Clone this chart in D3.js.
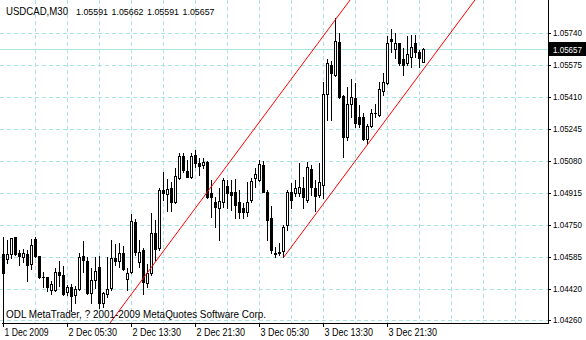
<!DOCTYPE html>
<html>
<head>
<meta charset="utf-8">
<script src="https://d3js.org/d3.v7.min.js"></script>
<style>
  body { margin: 0; background: #fff; }
  svg { display: block; }
  text { font-family: "Liberation Sans", Arial, sans-serif; font-size: 11px; }
</style>
</head>
<body>
<svg width="586" height="340"></svg>

<script type="text/javascript">
    var symbol = "USDCAD,M30";
    var copyright = "ODL MetaTrader, ? 2001-2009 MetaQuotes Software Corp.";

    // M30 bars, 1 Dec 2009 21:30 onwards
    var opens = [1.04600, 1.04575, 1.04600, 1.04688, 1.04606, 1.04585, 1.04600, 1.04549, 1.04678, 1.04590,
                 1.04482, 1.04482, 1.04415, 1.04415, 1.04508, 1.04492, 1.04404, 1.04430, 1.04389, 1.04420,
                 1.04590, 1.04564, 1.04399, 1.04466, 1.04533, 1.04348, 1.04394, 1.04425, 1.04580, 1.04564,
                 1.04606, 1.04471, 1.04508, 1.04765, 1.04559, 1.04621, 1.04451, 1.04502, 1.04709, 1.04631,
                 1.04930, 1.04910, 1.04941, 1.04868, 1.04992, 1.05106, 1.05028, 1.04997, 1.05111, 1.05070,
                 1.05059, 1.05075, 1.04915, 1.04868, 1.04838, 1.04868, 1.04951, 1.04920, 1.04920, 1.04868,
                 1.04838, 1.04817, 1.04879, 1.04992, 1.04982, 1.05059, 1.04920, 1.04786, 1.04606, 1.04611,
                 1.04616, 1.04750, 1.04920, 1.04915, 1.04915, 1.04941, 1.04879, 1.05039, 1.04941, 1.04905,
                 1.04956, 1.05425, 1.05575, 1.05523, 1.05693, 1.05415, 1.05204, 1.05374, 1.05405, 1.05307,
                 1.05307, 1.05193, 1.05260, 1.05327, 1.05317, 1.05441, 1.05482, 1.05709, 1.05657, 1.05688,
                 1.05606, 1.05585, 1.05616, 1.05688, 1.05642, 1.05591];
    var highs = [1.04688, 1.04673, 1.04683, 1.04688, 1.04621, 1.04626, 1.04621, 1.04678, 1.04688, 1.04590,
                 1.04508, 1.04482, 1.04461, 1.04528, 1.04564, 1.04538, 1.04441, 1.04446, 1.04435, 1.04606,
                 1.04667, 1.04585, 1.04528, 1.04585, 1.04590, 1.04404, 1.04585, 1.04673, 1.04652, 1.04657,
                 1.04642, 1.04528, 1.04807, 1.04781, 1.04673, 1.04631, 1.04549, 1.04812, 1.04776, 1.04941,
                 1.05023, 1.04987, 1.04972, 1.05044, 1.05121, 1.05121, 1.05085, 1.05121, 1.05137, 1.05095,
                 1.05095, 1.05080, 1.04982, 1.04894, 1.04941, 1.04992, 1.04982, 1.04982, 1.04987, 1.04930,
                 1.04863, 1.04972, 1.04992, 1.05044, 1.05085, 1.05080, 1.04930, 1.04848, 1.04636, 1.04657,
                 1.04750, 1.04930, 1.04966, 1.04982, 1.05070, 1.04997, 1.05075, 1.05059, 1.04982, 1.05070,
                 1.05487, 1.05606, 1.05596, 1.05817, 1.05740, 1.05420, 1.05461, 1.05503, 1.05482, 1.05369,
                 1.05327, 1.05271, 1.05348, 1.05374, 1.05487, 1.05534, 1.05724, 1.05761, 1.05740, 1.05688,
                 1.05663, 1.05724, 1.05730, 1.05730, 1.05652, 1.05662];
    var lows = [1.04230, 1.04554, 1.04580, 1.04595, 1.04544, 1.04559, 1.04461, 1.04523, 1.04585, 1.04477,
                1.04430, 1.04410, 1.04394, 1.04410, 1.04435, 1.04389, 1.04389, 1.04306, 1.04348, 1.04415,
                1.04508, 1.04394, 1.04348, 1.04425, 1.04322, 1.04327, 1.04379, 1.04415, 1.04544, 1.04533,
                1.04518, 1.04415, 1.04502, 1.04595, 1.04533, 1.04394, 1.04430, 1.04492, 1.04569, 1.04621,
                1.04879, 1.04822, 1.04822, 1.04863, 1.04987, 1.05023, 1.04995, 1.04992, 1.05049, 1.05008,
                1.05044, 1.04889, 1.04791, 1.04740, 1.04673, 1.04843, 1.04838, 1.04827, 1.04786, 1.04786,
                1.04786, 1.04796, 1.04868, 1.04946, 1.04977, 1.04918, 1.04673, 1.04606, 1.04585, 1.04595,
                1.04585, 1.04724, 1.04838, 1.04899, 1.04899, 1.04838, 1.04868, 1.04905, 1.04822, 1.04894,
                1.04889, 1.05291, 1.05291, 1.05518, 1.05405, 1.05101, 1.05188, 1.05307, 1.05255, 1.05255,
                1.05188, 1.05173, 1.05255, 1.05307, 1.05312, 1.05420, 1.05477, 1.05642, 1.05611, 1.05575,
                1.05523, 1.05575, 1.05565, 1.05616, 1.05565, 1.05591];
    var closes = [1.04502, 1.04600, 1.04683, 1.04600, 1.04590, 1.04606, 1.04544, 1.04647, 1.04590, 1.04482,
                  1.04480, 1.04430, 1.04446, 1.04508, 1.04492, 1.04394, 1.04430, 1.04384, 1.04420, 1.04585,
                  1.04569, 1.04399, 1.04466, 1.04513, 1.04348, 1.04399, 1.04420, 1.04580, 1.04564, 1.04606,
                  1.04523, 1.04502, 1.04771, 1.04611, 1.04611, 1.04456, 1.04502, 1.04709, 1.04626, 1.04930,
                  1.04915, 1.04936, 1.04868, 1.05003, 1.05106, 1.05033, 1.04997, 1.05106, 1.05070, 1.05054,
                  1.05075, 1.04894, 1.04894, 1.04843, 1.04874, 1.04982, 1.04915, 1.04905, 1.04853, 1.04817,
                  1.04817, 1.04868, 1.04977, 1.05013, 1.05064, 1.04920, 1.04776, 1.04621, 1.04600, 1.04606,
                  1.04740, 1.04920, 1.04879, 1.04941, 1.04946, 1.04894, 1.05049, 1.04946, 1.04899, 1.04972,
                  1.05425, 1.05585, 1.05534, 1.05699, 1.05410, 1.05204, 1.05374, 1.05410, 1.05276, 1.05271,
                  1.05193, 1.05260, 1.05327, 1.05325, 1.05451, 1.05487, 1.05688, 1.05699, 1.05688, 1.05585,
                  1.05575, 1.05632, 1.05668, 1.05642, 1.05611, 1.05657];

    var priceTicks = [1.05740, 1.05575, 1.05410, 1.05245, 1.05080, 1.04915, 1.04750, 1.04585, 1.04420, 1.04260];
    var timeTickBars = [0, 16, 32, 48, 64, 80, 96];
    var timeTickLabels = ["1 Dec 2009", "2 Dec 05:30", "2 Dec 13:30", "2 Dec 21:30",
                          "3 Dec 05:30", "3 Dec 13:30", "3 Dec 21:30"];

    // equidistant channel anchors (bar index, price)
    var channelLower = [{ bar: 70, price: 1.04585 }, { bar: 105, price: 1.05556 }];
    var channelUpper = [{ bar: 26, price: 1.04230 }, { bar: 70, price: 1.05451 }];

    var plotLeft = 2, plotRight = 548, plotBottom = 323;
    var gridColor = "#a9e3e3";
    var fmt = d3.format(".5f");

    var svg = d3.select("svg");
    var x = d3.scaleLinear().domain([0, 105]).range([3, 423]);
    var y = d3.scaleLinear().domain([1.05740, 1.04255]).range([33, 321]);
    var py = function (p) { return Math.round(y(p)); };

    // the terminal font is a narrow bitmap one, so squeeze text to its widths
    var squeeze = function (sel, width) {
        sel.attr("textLength", width).attr("lengthAdjust", "spacingAndGlyphs");
    };

    svg.append("rect").attr("width", 586).attr("height", 340).attr("fill", "#fff");
    svg.append("clipPath").attr("id", "plot")
        .append("rect").attr("x", 0).attr("y", 0)
        .attr("width", plotRight).attr("height", plotBottom);

    // grid
    var grid = svg.append("g")
        .attr("stroke", gridColor)
        .attr("stroke-dasharray", "4,3")
        .attr("shape-rendering", "crispEdges");
    grid.selectAll("line.h")
            .data(priceTicks)
        .enter()
            .append("line")
            .attr("class", "h")
            .attr("x1", 0).attr("x2", plotRight)
            .attr("y1", function (d) { return py(d) + 0.5 })
            .attr("y2", function (d) { return py(d) + 0.5 });
    grid.selectAll("line.v")
            .data(d3.range(8, 136, 8))
        .enter()
            .append("line")
            .attr("class", "v")
            .attr("x1", function (d) { return x(d) + 0.5 })
            .attr("x2", function (d) { return x(d) + 0.5 })
            .attr("y1", 0).attr("y2", plotBottom);

    // last price line
    var lastPrice = closes[closes.length - 1];
    svg.append("line")
        .attr("x1", 0).attr("x2", plotRight)
        .attr("y1", py(lastPrice) + 0.5).attr("y2", py(lastPrice) + 0.5)
        .attr("stroke", gridColor)
        .attr("shape-rendering", "crispEdges");

    // candles
    var bars = opens.map(function (o, i) {
        return { i: i, o: o, h: highs[i], l: lows[i], c: closes[i] };
    });
    var candles = svg.append("g")
        .attr("clip-path", "url(#plot)")
        .attr("shape-rendering", "crispEdges");
    candles.selectAll("rect.wick")
            .data(bars)
        .enter()
            .append("rect")
            .attr("class", "wick")
            .attr("x", function (d) { return x(d.i) })
            .attr("width", 1)
            .attr("y", function (d) { return py(d.h) })
            .attr("height", function (d) { return py(d.l) - py(d.h) + 1 })
            .attr("fill", "#000");
    candles.selectAll("rect.body")
            .data(bars)
        .enter()
            .append("rect")
            .attr("class", "body")
            .attr("x", function (d) { return x(d.i) - 1 })
            .attr("width", 3)
            .attr("y", function (d) { return py(Math.max(d.o, d.c)) })
            .attr("height", function (d) { return py(Math.min(d.o, d.c)) - py(Math.max(d.o, d.c)) + 1 })
            .attr("fill", "#000");
    candles.selectAll("rect.hollow")
            .data(bars.filter(function (d) { return d.c > d.o && py(d.o) - py(d.c) >= 2 }))
        .enter()
            .append("rect")
            .attr("class", "hollow")
            .attr("x", function (d) { return x(d.i) })
            .attr("width", 1)
            .attr("y", function (d) { return py(d.c) + 1 })
            .attr("height", function (d) { return py(d.o) - py(d.c) - 1 })
            .attr("fill", "#fff");

    // channel lines, rays to the right, clipped to the plot
    var extend = function (pts, toBar) {
        var slope = (pts[1].price - pts[0].price) / (pts[1].bar - pts[0].bar);
        return [pts[0], { bar: toBar, price: pts[0].price + (toBar - pts[0].bar) * slope }];
    };
    svg.append("g").attr("clip-path", "url(#plot)")
        .selectAll("line")
            .data([extend(channelLower, 150), extend(channelUpper, 150)])
        .enter()
            .append("line")
            .attr("x1", function (d) { return x(d[0].bar) + 0.5 })
            .attr("y1", function (d) { return y(d[0].price) + 0.5 })
            .attr("x2", function (d) { return x(d[1].bar) + 0.5 })
            .attr("y2", function (d) { return y(d[1].price) + 0.5 })
            .attr("stroke", "#ff0000")
            .attr("stroke-width", 1);

    // frame: right and bottom edges only
    var frame = svg.append("g").attr("stroke", "#000").attr("shape-rendering", "crispEdges");
    frame.append("line").attr("x1", plotRight + 0.5).attr("x2", plotRight + 0.5).attr("y1", 0).attr("y2", plotBottom + 1);
    frame.append("line").attr("x1", plotLeft).attr("x2", plotRight + 1).attr("y1", plotBottom + 0.5).attr("y2", plotBottom + 0.5);

    // price axis
    var yAxis = d3.axisRight(y)
        .tickValues(priceTicks)
        .tickSize(3)
        .tickPadding(2)
        .tickFormat(fmt);
    var gy = svg.append("g")
        .attr("transform", "translate(" + plotRight + ",0)")
        .call(yAxis);
    gy.select(".domain").remove();
    gy.attr("font-family", null).attr("font-size", null);
    gy.selectAll("line").attr("shape-rendering", "crispEdges");
    gy.selectAll("text").style("font-size", "9px").call(squeeze, 29);

    // time axis
    var xAxis = d3.axisBottom(x)
        .tickValues(timeTickBars)
        .tickSize(4)
        .tickPadding(1)
        .tickFormat(function (d, i) { return timeTickLabels[i] });
    var gx = svg.append("g")
        .attr("transform", "translate(0," + plotBottom + ")")
        .call(xAxis);
    gx.select(".domain").remove();
    gx.attr("font-family", null).attr("font-size", null);
    gx.selectAll("line").attr("shape-rendering", "crispEdges");
    gx.selectAll("text")
        .attr("text-anchor", "start")
        .attr("x", 1)
        .attr("textLength", function (d, i) { return timeTickLabels[i].length * 4.4 })
        .attr("lengthAdjust", "spacingAndGlyphs");

    // last price tag
    svg.append("rect")
        .attr("x", plotRight + 1).attr("y", py(lastPrice) - 7)
        .attr("width", 586 - plotRight - 1).attr("height", 14)
        .attr("fill", "#000");
    svg.append("text")
        .attr("x", plotRight + 5).attr("y", py(lastPrice) + 0.5)
        .attr("dy", "0.35em")
        .attr("fill", "#fff")
        .style("font-size", "9px")
        .text(fmt(lastPrice))
        .call(squeeze, 29);

    // header: symbol and O H L C of the last bar
    var last = bars[bars.length - 1];
    svg.append("text")
        .attr("x", 6).attr("y", 15)
        .text(symbol)
        .call(squeeze, 62);
    svg.selectAll("text.ohlc")
            .data([last.o, last.h, last.l, last.c])
        .enter()
            .append("text")
            .attr("class", "ohlc")
            .attr("x", function (d, i) { return 76 + i * 35.5 })
            .attr("y", 15)
            .style("font-size", "9.5px")
            .text(fmt)
            .call(squeeze, 32);

    svg.append("text")
        .attr("x", 6).attr("y", 318)
        .text(copyright)
        .call(squeeze, 260);
</script>
</body>
</html>
